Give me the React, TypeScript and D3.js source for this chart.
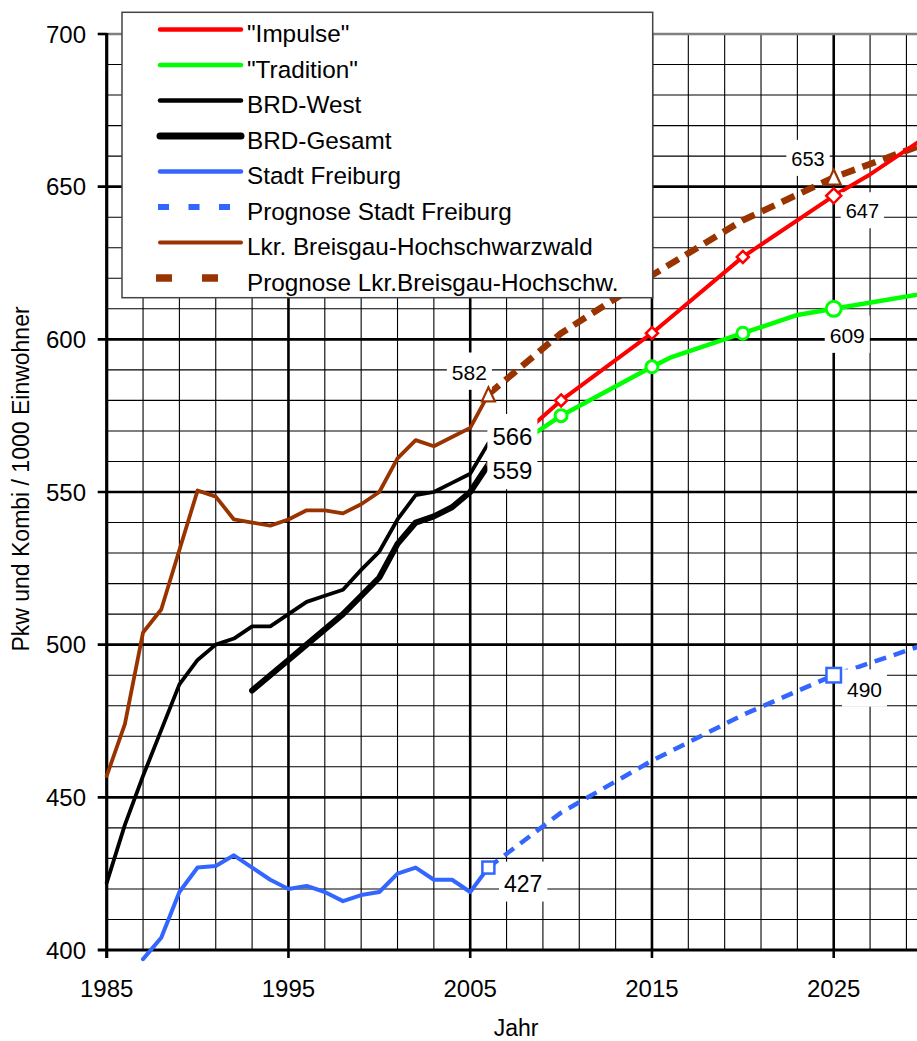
import React from 'react';
import * as d3 from 'd3';

const W = 917;
const H = 1041;
const FONT = '"Liberation Sans", Arial, sans-serif';

const RED = '#ff0000';
const GREEN = '#00ff00';
const BLUE = '#3366ff';
const BROWN = '#993300';

// --- data -------------------------------------------------------------
const lkrYears = [1985, 1986, 1987, 1988, 1989, 1990, 1991, 1992, 1993, 1994, 1995, 1996, 1997, 1998, 1999, 2000, 2001, 2002, 2003, 2004, 2005, 2006];
const lkrValues = [457, 474, 504, 511.5, 531, 550.5, 548.5, 541, 540, 539, 541, 544, 544, 543, 546, 550, 561, 567, 565, 568, 571, 582];

const westYears = [1985, 1986, 1987, 1988, 1989, 1990, 1991, 1992, 1993, 1994, 1995, 1996, 1997, 1998, 1999, 2000, 2001, 2002, 2003, 2004, 2005, 2006];
const westValues = [422, 441, 457, 472, 487, 495, 500, 502, 506, 506, 510, 514, 516, 518, 524.5, 530.5, 541, 549, 550, 553, 556, 566];

const gesamtYears = [1993, 1994, 1995, 1996, 1997, 1998, 1999, 2000, 2001, 2002, 2003, 2004, 2005, 2006];
const gesamtValues = [485, 490, 495, 500, 505, 510, 516, 522, 533, 540, 542, 545, 550, 559];

const freiburgYears = [1987, 1988, 1989, 1990, 1991, 1992, 1993, 1994, 1995, 1996, 1997, 1998, 1999, 2000, 2001, 2002, 2003, 2004, 2005, 2006];
const freiburgValues = [397, 404, 419, 427, 427.5, 431, 427, 423, 420, 421, 419, 416, 418, 419, 425, 427, 423, 423, 419, 427];

const progYears = [2006, 2010, 2015, 2020, 2025, 2030];
const freiburgProgValues = [427, 445, 462, 477, 490, 500];
const lkrProgValues = [582, 602, 621, 639, 653, 664];

const impulseYears = [2006, 2010, 2015, 2020, 2025, 2027, 2030];
const impulseValues = [559, 580, 602, 627, 647, 654, 666];

const traditionYears = [2006, 2010, 2015, 2016, 2020, 2023, 2025, 2030];
const traditionValues = [559, 575, 591, 594, 602, 608, 610, 615];

const markerYears = [2010, 2015, 2020, 2025];
const impulseMarkers = [580, 602, 627, 647];
const traditionMarkers = [575, 591, 602, 610];
const endYears = [2006, 2025];
const lkrMarkers = [582, 653];
const freiburgMarkers = [427, 490];

const labelYears = [2006, 2006, 2006, 2025, 2025, 2025, 2006, 2025];
const labelValues = [582, 566, 559, 653, 647, 609, 427, 490];

const xTicks = [1985, 1995, 2005, 2015, 2025];
const yTicks = [400, 450, 500, 550, 600, 650, 700];

// label placement (offsets from the point)
const labelLayout = [
  { dx: -1.5, dy: -14.5, anchor: 'end', fs: 21 },
  { dx: 4, dy: 2, anchor: 'start', fs: 24 },
  { dx: 4, dy: 14.7, anchor: 'start', fs: 24 },
  { dx: -9, dy: -11.6, anchor: 'end', fs: 20 },
  { dx: 12, dy: 22.4, anchor: 'start', fs: 20 },
  { dx: -4, dy: 31, anchor: 'start', fs: 21 },
  { dx: 15.6, dy: 24, anchor: 'start', fs: 23 },
  { dx: 13.3, dy: 21.5, anchor: 'start', fs: 21 },
];

const x = d3.scaleLinear().domain([1985, 2030]).range([106.7, 924.6]);
const y = d3.scaleLinear().domain([400, 700]).range([950, 34]);

const line = d3
  .line<[number, number]>()
  .x((d) => x(d[0]))
  .y((d) => y(d[1]));

const pts = (yrs: number[], vals: number[]) => yrs.map((yr, i) => [yr, vals[i]] as [number, number]);

const series = [
  { key: 'lkr', d: pts(lkrYears, lkrValues), color: BROWN, width: 3.8 },
  { key: 'lkrProg', d: pts(progYears, lkrProgValues), color: BROWN, width: 6.5, dash: '14 8' },
  { key: 'west', d: pts(westYears, westValues), color: '#000', width: 3.8 },
  { key: 'gesamt', d: pts(gesamtYears, gesamtValues), color: '#000', width: 6 },
  { key: 'freiburg', d: pts(freiburgYears, freiburgValues), color: BLUE, width: 4 },
  { key: 'freiburgProg', d: pts(progYears, freiburgProgValues), color: BLUE, width: 4.5, dash: '12 8' },
  { key: 'tradition', d: pts(traditionYears, traditionValues), color: GREEN, width: 4.5 },
  { key: 'impulse', d: pts(impulseYears, impulseValues), color: RED, width: 4 },
];

const legendItems = [
  { label: '"Impulse"', color: RED, width: 4.5 },
  { label: '"Tradition"', color: GREEN, width: 4.5 },
  { label: 'BRD-West', color: '#000', width: 4.5 },
  { label: 'BRD-Gesamt', color: '#000', width: 7 },
  { label: 'Stadt Freiburg', color: BLUE, width: 4.5 },
  { label: 'Prognose Stadt Freiburg', color: BLUE, width: 6, dash: '11 19.5', x0: 158 },
  { label: 'Lkr. Breisgau-Hochschwarzwald', color: BROWN, width: 4 },
  { label: 'Prognose Lkr.Breisgau-Hochschw.', color: BROWN, width: 7.5, dash: '16 30', x0: 156 },
];

export default function App() {
  const minorX = d3.range(1985, 2031, 2);
  const minorY = d3.range(400, 701, 10);
  const top = y(700);
  const bottom = y(400);
  const left = x(1985);
  const right = x(2030);

  return (
    <svg
      width={W}
      height={H}
      style={{ position: 'absolute', left: 0, top: 0, background: '#fff' }}
      fontFamily={FONT}
    >
      <rect x={0} y={0} width={W} height={H} fill="#fff" />

      {/* minor grid */}
      <g stroke="#000" strokeWidth={1.1}>
        {minorX.map((t) => (
          <line key={'mx' + t} x1={x(t)} x2={x(t)} y1={top} y2={bottom} />
        ))}
        {minorY.map((v) => (
          <line key={'my' + v} x1={left} x2={right} y1={y(v)} y2={y(v)} />
        ))}
      </g>

      {/* major grid */}
      <g stroke="#000" strokeWidth={2.6}>
        {xTicks.slice(1).map((t) => (
          <line key={'Mx' + t} x1={x(t)} x2={x(t)} y1={top} y2={bottom + 8} />
        ))}
        {yTicks.slice(1, -1).map((v) => (
          <line key={'My' + v} x1={left - 9} x2={right} y1={y(v)} y2={y(v)} />
        ))}
      </g>
      <line x1={left} x2={right} y1={top} y2={top} stroke="#808080" strokeWidth={2.4} />
      <line x1={left - 9} x2={left} y1={top} y2={top} stroke="#000" strokeWidth={2.6} />

      {/* axes */}
      <line x1={left} x2={left} y1={top - 1} y2={bottom + 8} stroke="#000" strokeWidth={3.2} />
      <line x1={left - 9} x2={right} y1={bottom} y2={bottom} stroke="#000" strokeWidth={3} />

      {/* series */}
      <g fill="none" strokeLinejoin="round">
        {series.map((s) => (
          <path
            key={s.key}
            d={line(s.d) || ''}
            stroke={s.color}
            strokeWidth={s.width}
            strokeDasharray={s.dash}
            strokeLinecap={s.dash ? 'butt' : 'round'}
          />
        ))}
      </g>

      {/* value labels */}
      {labelValues.map((v, i) => {
        const L = labelLayout[i];
        const tx = x(labelYears[i]) + L.dx;
        const ty = y(v) + L.dy;
        const text = String(v);
        const w = text.length * 0.556 * L.fs;
        const x0 = L.anchor === 'end' ? tx - w : tx;
        return (
          <g key={'lab' + i}>
            <rect x={x0 - 5} y={ty - 1.3 * L.fs} width={w + 10} height={1.3 * L.fs + 10} fill="#fff" />
            <text x={tx} y={ty} fontSize={L.fs} textAnchor={L.anchor} fill="#000">
              {text}
            </text>
          </g>
        );
      })}

      {/* markers */}
      <g fill="#fff">
        {markerYears.map((yr, i) => {
          const s = yr === 2025 ? 7.5 : 6;
          return (
            <path
              key={'dm' + yr}
              transform={`translate(${x(yr)},${y(impulseMarkers[i])})`}
              d={`M0,${-s}L${s},0L0,${s}L${-s},0Z`}
              stroke={RED}
              strokeWidth={2.5}
            />
          );
        })}
        {markerYears.map((yr, i) => (
          <circle
            key={'cm' + yr}
            cx={x(yr)}
            cy={y(traditionMarkers[i])}
            r={yr === 2025 ? 7.5 : 6}
            stroke={GREEN}
            strokeWidth={3}
          />
        ))}
        {endYears.map((yr, i) => {
          const big = yr === 2025;
          const a = big ? 8 : 7;
          const b = 7;
          const h = big ? 7 : 6.5;
          return (
            <path
              key={'tm' + yr}
              transform={`translate(${x(yr)},${y(lkrMarkers[i])})`}
              d={`M0,${-a}L${h},${b}L${-h},${b}Z`}
              stroke={BROWN}
              strokeWidth={2.2}
            />
          );
        })}
        {endYears.map((yr, i) => {
          const s = yr === 2025 ? 14.5 : 12;
          return (
            <rect
              key={'sm' + yr}
              x={x(yr) - s / 2}
              y={y(freiburgMarkers[i]) - s / 2}
              width={s}
              height={s}
              stroke={BLUE}
              strokeWidth={2.5}
            />
          );
        })}
      </g>

      {/* tick labels */}
      <g fontSize={24} fill="#000">
        {yTicks.map((v) => (
          <text key={'yl' + v} x={86} y={y(v) + 8.5} textAnchor="end">
            {v}
          </text>
        ))}
        {xTicks.map((t) => (
          <text key={'xl' + t} x={x(t)} y={997} textAnchor="middle">
            {t}
          </text>
        ))}
        <text x={516} y={1036} textAnchor="middle" fontSize={23}>
          Jahr
        </text>
        <text transform="translate(29,479) rotate(-90)" textAnchor="middle" fontSize={23}>
          Pkw und Kombi / 1000 Einwohner
        </text>
      </g>

      {/* legend */}
      <g>
        <rect x={122} y={12.3} width={530.7} height={285.4} fill="#fff" stroke="#444" strokeWidth={1.5} />
        {legendItems.map((it, i) => {
          const ly = 29.5 + i * 35.5;
          return (
            <g key={'lg' + i}>
              <line
                x1={it.dash ? it.x0 : 160}
                x2={241}
                y1={ly}
                y2={ly}
                stroke={it.color}
                strokeWidth={it.width}
                strokeDasharray={it.dash}
                strokeLinecap={it.dash ? 'butt' : 'round'}
              />
              <text x={247} y={ly + 12.5} fontSize={24.3} fill="#000">
                {it.label}
              </text>
            </g>
          );
        })}
      </g>
    </svg>
  );
}
